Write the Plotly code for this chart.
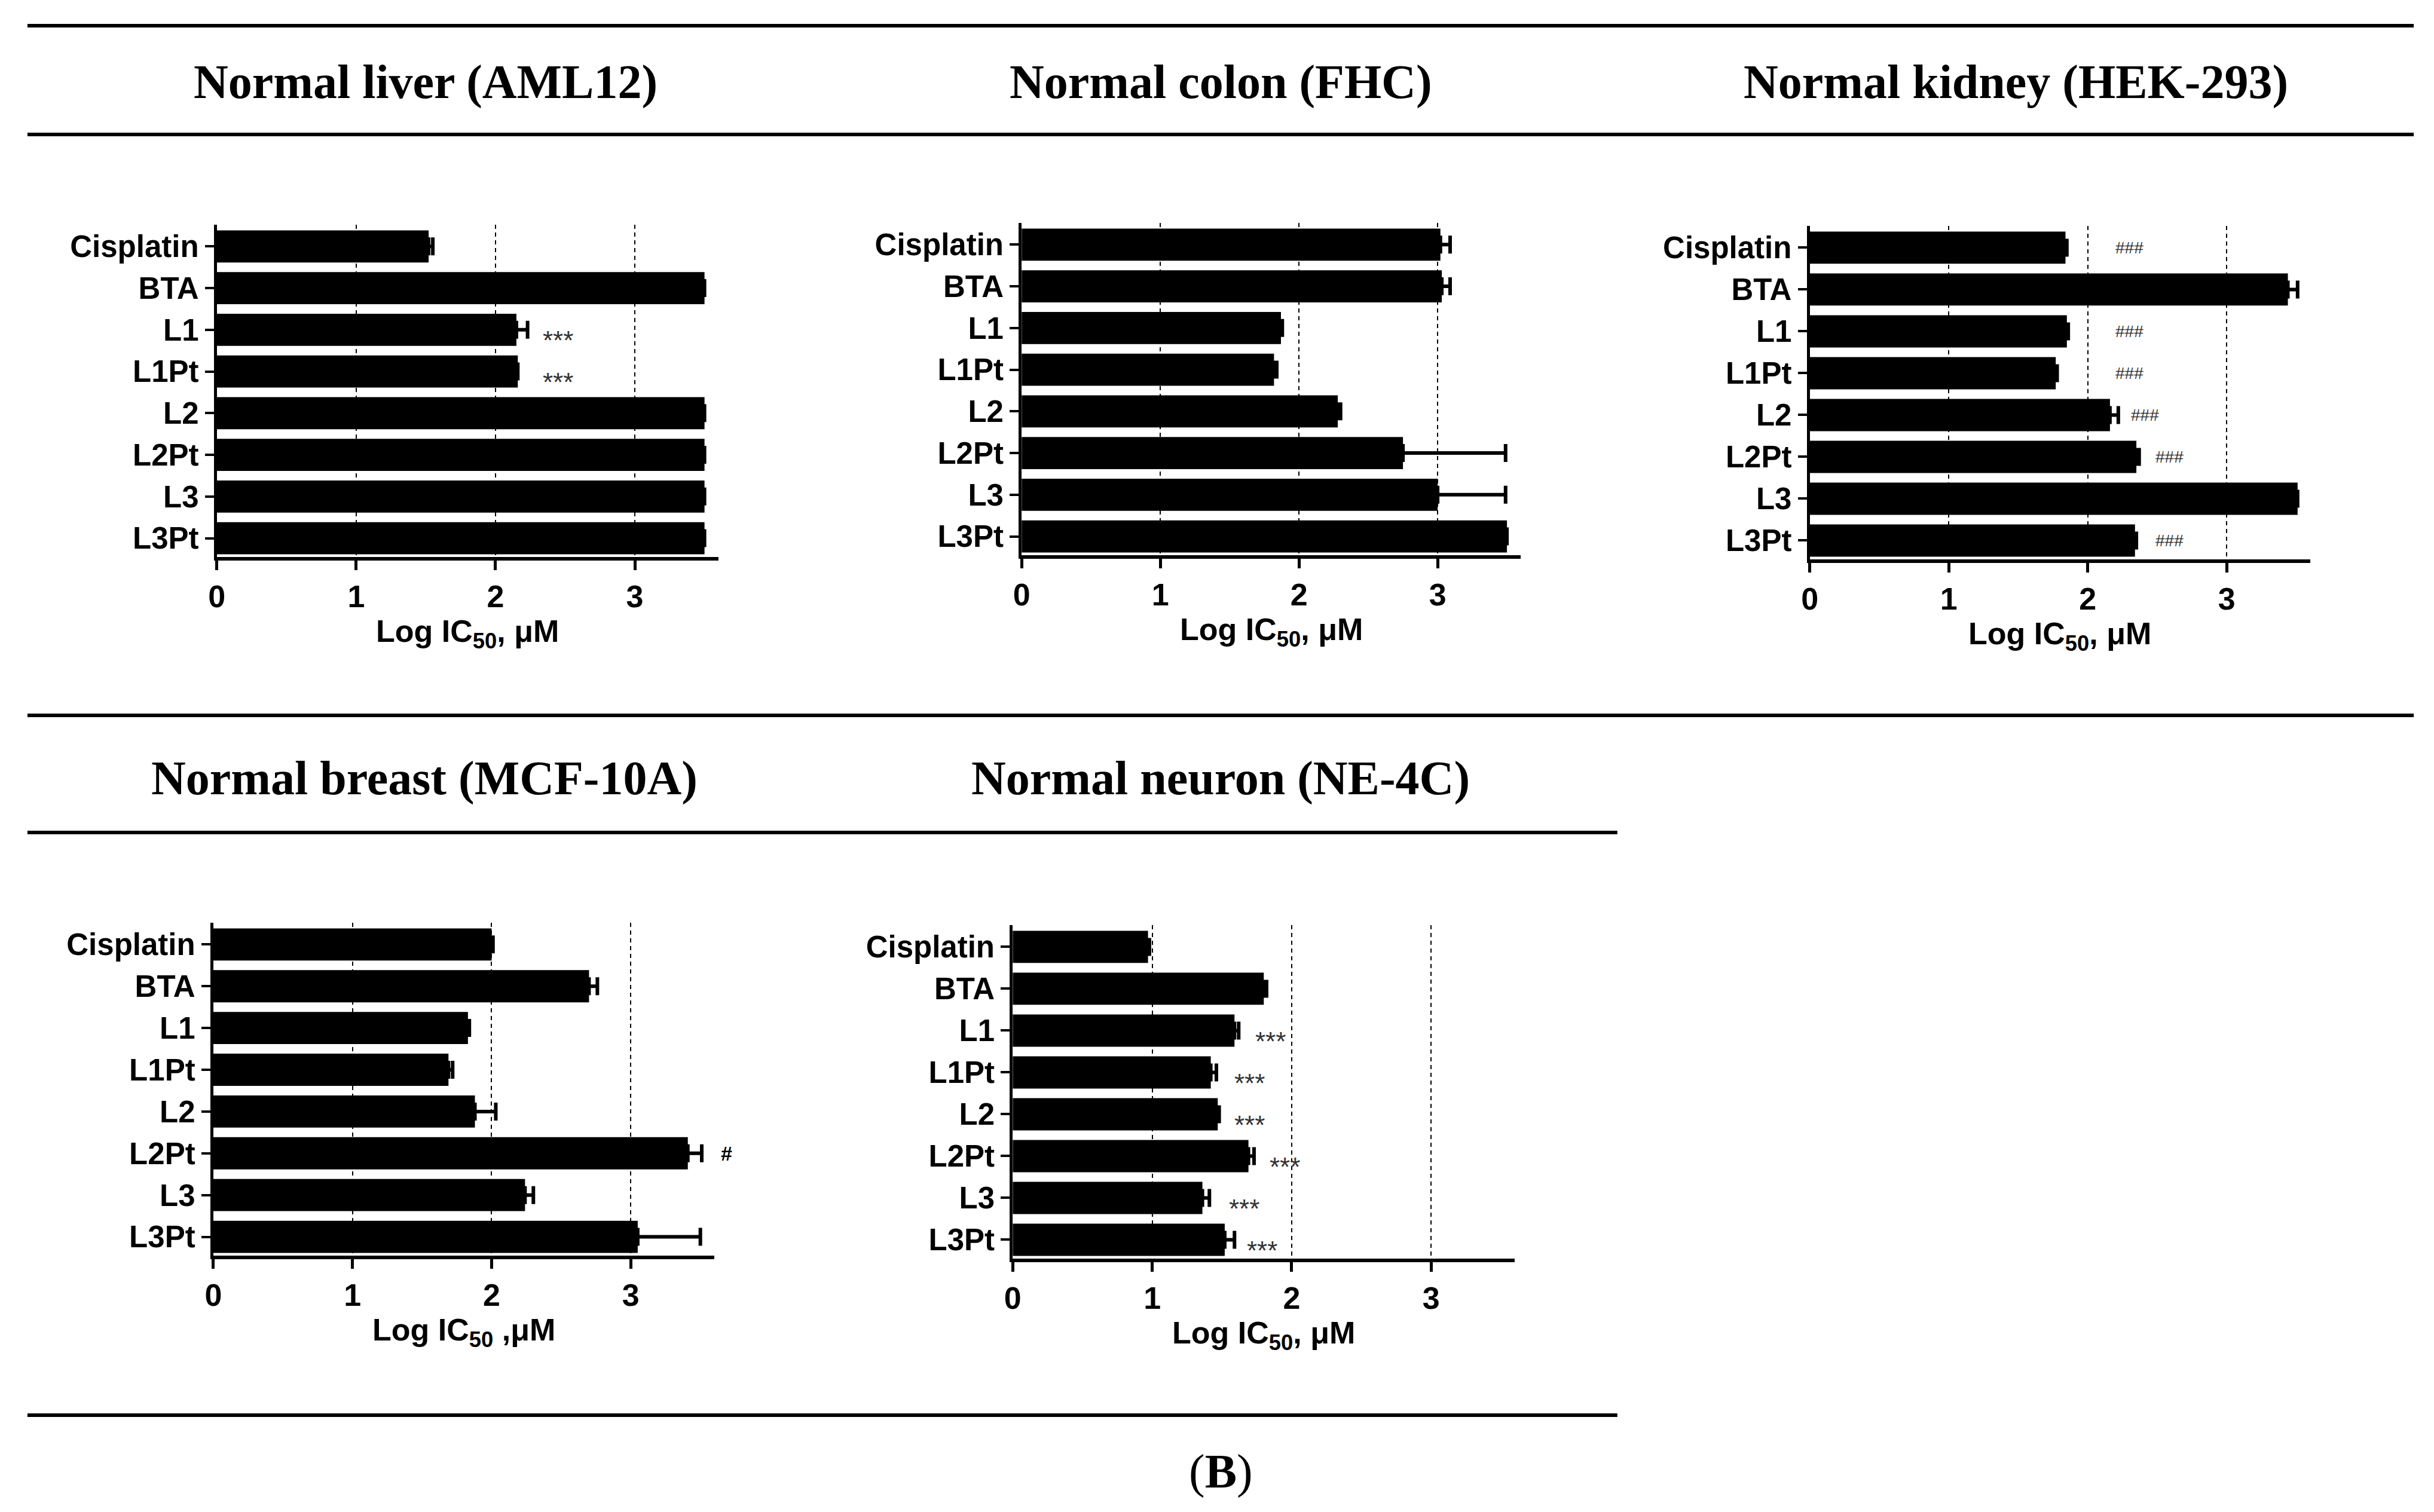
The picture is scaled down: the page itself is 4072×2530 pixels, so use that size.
import plotly.graph_objects as go

# ---------------- data ----------------
categories = ["Cisplatin", "BTA", "L1", "L1Pt", "L2", "L2Pt", "L3", "L3Pt"]

liver_vals = [1.52, 3.50, 2.15, 2.16, 3.50, 3.50, 3.50, 3.50]
liver_err = [0.03, 0.00, 0.08, 0.00, 0.00, 0.00, 0.00, 0.00]
liver_sig_cats = ["L1", "L1Pt"]
liver_sig_x = [2.45, 2.45]

colon_vals = [3.02, 3.03, 1.87, 1.82, 2.28, 2.75, 3.00, 3.50]
colon_err = [0.07, 0.06, 0.01, 0.02, 0.02, 0.74, 0.49, 0.00]
colon_sig_cats = []
colon_sig_x = []

kidney_vals = [1.84, 3.44, 1.85, 1.77, 2.16, 2.35, 3.51, 2.34]
kidney_err = [0.01, 0.07, 0.01, 0.01, 0.06, 0.02, 0.00, 0.01]
kidney_sig_cats = ["Cisplatin", "L1", "L1Pt", "L2", "L2Pt", "L3Pt"]
kidney_sig_x = [2.30, 2.30, 2.30, 2.41, 2.59, 2.59]

breast_vals = [2.00, 2.70, 1.83, 1.69, 1.88, 3.41, 2.24, 3.05]
breast_err = [0.01, 0.06, 0.01, 0.03, 0.15, 0.10, 0.06, 0.45]
breast_sig_cats = ["L2Pt"]
breast_sig_x = [3.69]

neuron_vals = [0.97, 1.80, 1.59, 1.42, 1.47, 1.69, 1.36, 1.52]
neuron_err = [0.01, 0.02, 0.03, 0.04, 0.01, 0.04, 0.05, 0.07]
neuron_sig_cats = ["L1", "L1Pt", "L2", "L2Pt", "L3", "L3Pt"]
neuron_sig_x = [1.85, 1.70, 1.70, 1.95, 1.66, 1.79]

x_ticks = [0, 1, 2, 3]
x_max = 3.6

panel_titles = ["Normal liver (AML12)", "Normal colon (FHC)", "Normal kidney (HEK-293)",
                "Normal breast (MCF-10A)", "Normal neuron (NE-4C)"]
axis_titles = ["Log IC<sub>50</sub>, μM", "Log IC<sub>50</sub>, μM", "Log IC<sub>50</sub>, μM",
               "Log IC<sub>50</sub> ,μM", "Log IC<sub>50</sub>, μM"]

# ---------------- layout helpers ----------------
W, H = 4072, 2530
OX, OY = 14, 8  # page (body) offset compensation


def fx(px):
    return (px - OX) / W


def fy(py):
    return 1 - (py - OY) / H


panels = [
    dict(vals=liver_vals, err=liver_err, sc=liver_sig_cats, sx=liver_sig_x, sig="***",
         dx=(356, 1198), dy=(376, 932)),
    dict(vals=colon_vals, err=colon_err, sc=colon_sig_cats, sx=colon_sig_x, sig="***",
         dx=(1707, 2545), dy=(373, 929)),
    dict(vals=kidney_vals, err=kidney_err, sc=kidney_sig_cats, sx=kidney_sig_x, sig="###",
         dx=(3030, 3870), dy=(378, 936)),
    dict(vals=breast_vals, err=breast_err, sc=breast_sig_cats, sx=breast_sig_x, sig="#",
         dx=(350, 1191), dy=(1544, 2101)),
    dict(vals=neuron_vals, err=neuron_err, sc=neuron_sig_cats, sx=neuron_sig_x, sig="***",
         dx=(1692, 2535), dy=(1548, 2106)),
]
title_pos = [(706, 137), (2041, 137), (3376, 137), (704, 1302), (2041, 1302)]

SANS = "Liberation Sans, Arial, sans-serif"
SERIF = "Liberation Serif, Times New Roman, serif"

fig = go.Figure()
annotations = []
layout_axes = {}

for i, p in enumerate(panels, start=1):
    sfx = "" if i == 1 else str(i)
    xref, yref = f"x{sfx}", f"y{sfx}"
    fig.add_trace(go.Bar(
        x=p["vals"], y=categories, orientation="h",
        marker=dict(color="black", line=dict(width=0)),
        error_x=dict(type="data", array=p["err"], arrayminus=[0] * len(p["err"]),
                     symmetric=False, color="black", thickness=6, width=15),
        xaxis=xref, yaxis=yref, showlegend=False, hoverinfo="x+y",
    ))
    layout_axes[f"xaxis{sfx}"] = dict(
        domain=[fx(p["dx"][0]), fx(p["dx"][1])], range=[0, x_max], anchor=yref,
        tickmode="array", tickvals=x_ticks, ticktext=[str(t) for t in x_ticks],
        showgrid=True, gridcolor="black", gridwidth=2, griddash="7px,6px",
        showline=True, linecolor="black", linewidth=6, zeroline=False,
        ticks="outside", ticklen=16, tickwidth=5, tickcolor="black",
        tickfont=dict(family=SANS, size=52, color="black", weight="bold"),
        fixedrange=True,
    )
    layout_axes[f"yaxis{sfx}"] = dict(
        domain=[fy(p["dy"][1]), fy(p["dy"][0])], range=[7.45, -0.52], anchor=xref,
        type="category", categoryorder="array", categoryarray=categories,
        showgrid=False, showline=True, linecolor="black", linewidth=5, zeroline=False,
        ticks="outside", ticklen=15, tickwidth=4, tickcolor="black",
        tickfont=dict(family=SANS, size=51, color="black", weight="bold"),
        fixedrange=True,
    )
    # significance marks
    for c, xv in zip(p["sc"], p["sx"]):
        if p["sig"] == "***":
            fnt = dict(family=SANS, size=44, color="#333333")
            ysh = -18
        elif p["sig"] == "###":
            fnt = dict(family=SANS, size=28, color="#333333")
            ysh = 0
        else:
            fnt = dict(family=SANS, size=34, color="black", weight="bold")
            ysh = 0
        annotations.append(dict(
            text=p["sig"], x=xv / x_max, xref=f"{xref} domain", y=c, yref=yref,
            showarrow=False, xanchor="center", yanchor="middle", yshift=ysh, font=fnt,
        ))
    # x axis title
    dom_h = p["dy"][1] - p["dy"][0]
    annotations.append(dict(
        text=axis_titles[i - 1], x=0.5, xref=f"{xref} domain", y=-128 / dom_h,
        yref=f"{yref} domain", showarrow=False, xanchor="center", yanchor="middle",
        font=dict(family=SANS, size=52, color="black", weight="bold"),
    ))
    # panel title
    tx, ty = title_pos[i - 1]
    annotations.append(dict(
        text=panel_titles[i - 1], x=fx(tx), y=fy(ty), xref="paper", yref="paper",
        showarrow=False, xanchor="center", yanchor="middle",
        font=dict(family=SERIF, size=80, color="black", weight="bold"),
    ))

annotations.append(dict(
    text="(<b>B</b>)", x=fx(2041), y=fy(2462), xref="paper", yref="paper",
    showarrow=False, xanchor="center", yanchor="middle",
    font=dict(family=SERIF, size=80, color="black"),
))

rules = [(38, 4044, 43), (38, 4044, 225), (38, 4044, 1197), (38, 2707, 1393), (38, 2707, 2368)]
shapes = [dict(type="line", xref="paper", yref="paper", x0=fx(a), x1=fx(b), y0=fy(y), y1=fy(y),
               line=dict(color="black", width=6)) for a, b, y in rules]

fig.update_layout(
    width=W, height=H, margin=dict(l=0, r=0, t=0, b=0),
    paper_bgcolor="white", plot_bgcolor="white",
    bargap=0.23, showlegend=False,
    annotations=annotations, shapes=shapes,
    **layout_axes,
)

fig.write_html("out.html")
